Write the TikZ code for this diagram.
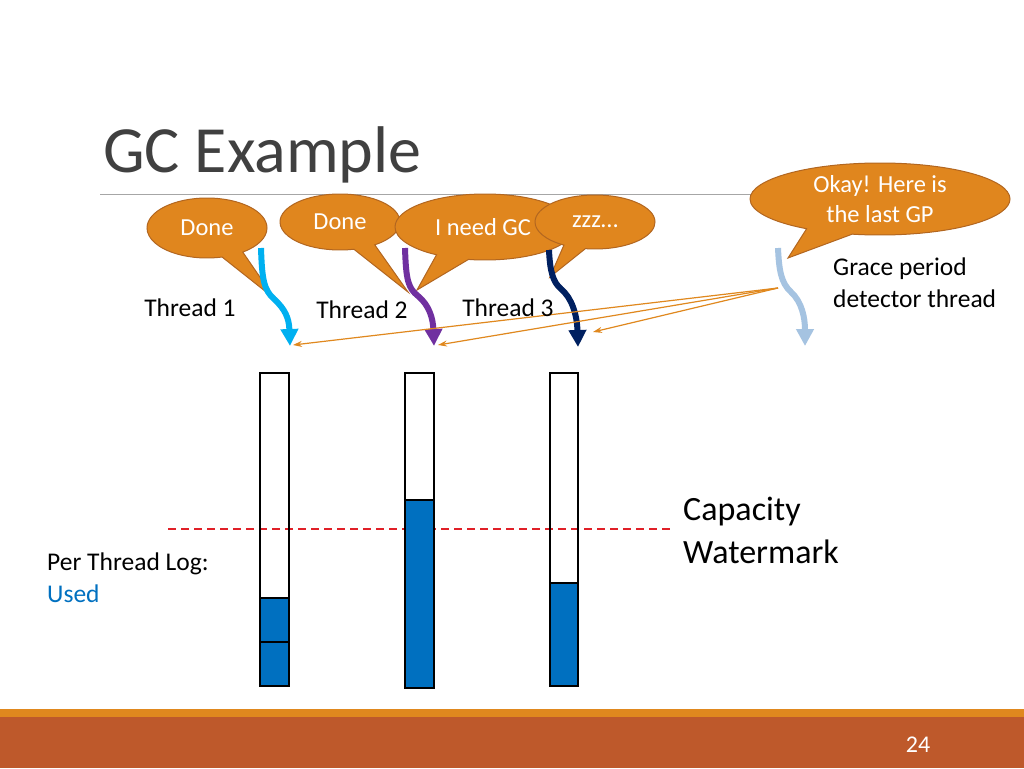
\documentclass[tikz,border=0pt]{standalone}
\usepackage{fontspec}
\setmainfont{Carlito}
\usetikzlibrary{arrows.meta,shapes.callouts,shapes.geometric}
\definecolor{bubfill}{RGB}{224,134,30}
\definecolor{bubdraw}{RGB}{178,102,32}
\definecolor{bandtop}{RGB}{224,136,30}
\definecolor{banddark}{RGB}{190,89,43}
\definecolor{titlegray}{RGB}{64,64,64}
\definecolor{barblue}{RGB}{0,112,192}
\definecolor{tcyan}{RGB}{0,176,240}
\definecolor{tpurple}{RGB}{112,48,160}
\definecolor{tnavy}{RGB}{0,32,96}
\definecolor{tlight}{RGB}{165,195,225}
\definecolor{wmred}{RGB}{224,32,40}
\tikzset{
  bubble/.style={ellipse callout, fill=bubfill, draw=bubdraw, line width=1pt,
    inner sep=0pt, text=white, font=\fontsize{24.5}{30}\selectfont, callout pointer arc=22},
  thread/.style={line width=6pt, -{Triangle[length=17pt,width=17pt]}},
  signal/.style={draw=bandtop, line width=1.2pt, -{Stealth[length=9pt,width=6pt]}},
  lbl/.style={font=\fontsize{25.5}{30}\selectfont, text=black, inner sep=0pt},
  bar/.style={draw=black, line width=1.8pt},
  used/.style={fill=barblue, draw=black, line width=1.8pt}
}
\begin{document}
\begin{tikzpicture}[x=1pt,y=-1pt]
\useasboundingbox (0,0) rectangle (1024,768);
\fill[white] (0,0) rectangle (1024,768);
% footer band
\fill[bandtop] (0,709) rectangle (1024,717);
\fill[banddark] (0,717) rectangle (1024,768);
\node[text=white, font=\fontsize{24}{28}\selectfont] (page) at (918,745) {24};
% title
\node[anchor=base west, text=titlegray, font=\fontsize{66}{72}\selectfont, inner sep=0pt] (title) at (103,172) {GC Example};
\draw[gray!70, line width=0.8pt] (100,194) -- (1000,194);

% watermark line and bars
\draw[wmred, line width=1.2pt, dash pattern=on 8pt off 5pt] (168,529) -- (672,529);
\draw[used] (260,598) rectangle (289,642);
\draw[used] (260,642) rectangle (289,686);
\draw[bar] (260,373) rectangle (289,686);
\draw[used] (405,500) rectangle (434,688);
\draw[bar] (405,373) rectangle (434,688);
\draw[used] (550,583) rectangle (578,686);
\draw[bar] (550,373) rectangle (578,686);

\node[anchor=west, font=\fontsize{34}{40}\selectfont, inner sep=0pt] (cap1) at (683,512) {Capacity};
\node[anchor=west, font=\fontsize{34}{40}\selectfont, inner sep=0pt] (cap2) at (683,552) {Watermark};
\node[anchor=west, lbl] (ptl) at (47,564) {Per Thread Log:};
\node[anchor=west, lbl, text=barblue] (usedlbl) at (47,594) {Used};

% speech bubbles
\node[bubble, minimum width=120pt, minimum height=60pt, callout absolute pointer={(275,299)}] (b1) at (207,228) {Done};
\node[bubble, minimum width=120pt, minimum height=56pt, callout absolute pointer={(408,292)}] (b2) at (340,222) {Done};
\node[bubble, minimum width=180pt, minimum height=66pt, callout absolute pointer={(417,290)}] (b3) at (485,227) {\raisebox{-3pt}{I need GC}\hspace*{4pt}};
\node[bubble, minimum width=120pt, minimum height=54pt, callout absolute pointer={(550,277)}] (b4) at (595,222) {zzz…};
\node[bubble, minimum width=260pt, minimum height=72pt, align=center, callout absolute pointer={(788,258)}] (b5) at (880,199) {Okay! Here is\\the last GP};

% threads
\coordinate (s1) at (261,248);
\coordinate (e1) at (290,346);
\coordinate (s2) at (405,248);
\coordinate (e2) at (434,346);
\coordinate (s3) at (549,250);
\coordinate (e3) at (578,347);
\coordinate (s4) at (778,248);
\coordinate (e4) at (805,346);
\draw[thread, tcyan] (s1) .. controls (262,280) and (264,290) .. (274,299) .. controls (285,309) and (289,318) .. (e1);
\draw[thread, tpurple] (s2) .. controls (406,280) and (408,288) .. (418,296) .. controls (429,305) and (433,318) .. (e2);
\draw[thread, tnavy] (s3) .. controls (550,272) and (553,282) .. (561,289) .. controls (572,298) and (577,315) .. (e3);
\draw[thread, tlight] (s4) .. controls (779,270) and (781,283) .. (791,292) .. controls (802,302) and (805,318) .. (e4);

% signals from detector
\coordinate (g) at (778,288);
\coordinate (h1) at (293,345);
\coordinate (h2) at (438,345);
\coordinate (h3) at (593,332);
\draw[signal] (g) -- (h1);
\draw[signal] (g) -- (h2);
\draw[signal] (g) -- (h3);

% labels
\node[lbl] (l1) at (190,308) {Thread 1};
\node[lbl] (l2) at (362,310) {Thread 2};
\node[lbl] (l3) at (508,308) {Thread 3};
\node[lbl, anchor=west] (gp1) at (833,269) {Grace period};
\node[lbl, anchor=west] (gp2) at (833,299) {detector thread};
\end{tikzpicture}
\end{document}
